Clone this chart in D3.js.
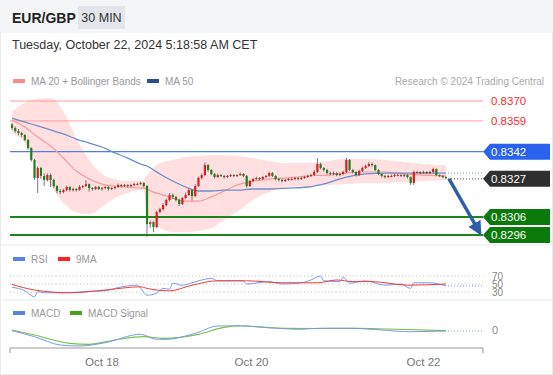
<!DOCTYPE html>
<html lang="en">
<head>
<meta charset="UTF-8">
<title>EUR/GBP 30 MIN</title>
<script src="https://cdn.jsdelivr.net/npm/d3@7"></script>
<style>
  body { margin: 0; background: #fff; }
  svg { display: block; font-family: "Liberation Sans", Arial, sans-serif; }
</style>
</head>
<body>
<svg width="553" height="375"></svg>
<script>
// candles (30 min bars), open of each bar = close of previous bar
const firstOpen = 0.83570
const closes = [
  .83551,.83534,.83523,.83512,.83485,.83440,.83374,.83275,.83330,.83286,
  .83264,.83291,.83264,.83230,.83203,.83197,.83208,.83225,.83208,.83214,
  .83208,.83225,.83230,.83241,.83219,.83214,.83225,.83214,.83219,.83225,
  .83214,.83219,.83225,.83236,.83230,.83236,.83230,.83236,.83241,.83241,
  .83247,.83230,.83020,.83031,.83004,.83087,.83103,.83125,.83153,.83181,
  .83170,.83153,.83131,.83164,.83181,.83208,.83175,.83230,.83275,.83291,
  .83346,.83319,.83297,.83280,.83291,.83286,.83280,.83286,.83291,.83286,
  .83291,.83297,.83286,.83230,.83258,.83269,.83275,.83269,.83280,.83286,
  .83302,.83286,.83269,.83264,.83258,.83264,.83269,.83269,.83275,.83269,
  .83275,.83280,.83286,.83291,.83308,.83352,.83330,.83319,.83302,.83297,
  .83302,.83291,.83297,.83308,.83374,.83319,.83308,.83291,.83313,.83330,
  .83341,.83352,.83346,.83319,.83297,.83286,.83280,.83286,.83286,.83291,
  .83291,.83286,.83291,.83280,.83247,.83308,.83308,.83302,.83308,.83302,
  .83308,.83324,.83291,.83286,.83280,.83275
]
const highs = [
  .83580,.83560,.83545,.83530,.83518,.83490,.83445,.83380,.83340,.83336,
  .83300,.83300,.83300,.83270,.83236,.83215,.83215,.83232,.83230,.83222,
  .83220,.83235,.83236,.83262,.83245,.83225,.83230,.83232,.83225,.83232,
  .83230,.83225,.83230,.83245,.83242,.83242,.83240,.83242,.83248,.83250,
  .83255,.83252,.83236,.83040,.83036,.83095,.83110,.83135,.83160,.83192,
  .83190,.83178,.83160,.83170,.83195,.83215,.83212,.83240,.83282,.83300,
  .83360,.83352,.83325,.83302,.83298,.83296,.83292,.83292,.83298,.83296,
  .83296,.83305,.83302,.83292,.83265,.83275,.83282,.83280,.83286,.83292,
  .83310,.83308,.83290,.83275,.83270,.83270,.83275,.83278,.83282,.83280,
  .83282,.83286,.83292,.83298,.83318,.83385,.83360,.83335,.83325,.83310,
  .83310,.83308,.83305,.83315,.83385,.83380,.83325,.83312,.83320,.83338,
  .83350,.83362,.83360,.83350,.83322,.83300,.83292,.83292,.83294,.83298,
  .83298,.83296,.83298,.83296,.83284,.83315,.83315,.83312,.83315,.83312,
  .83315,.83332,.83328,.83295,.83290,.83285
]
const lows = [
  .83540,.83525,.83510,.83500,.83478,.83430,.83365,.83265,.83192,.83270,
  .83230,.83255,.83225,.83220,.83190,.83185,.83190,.83200,.83200,.83200,
  .83200,.83205,.83218,.83225,.83200,.83205,.83208,.83208,.83205,.83212,
  .83205,.83208,.83212,.83220,.83222,.83225,.83222,.83225,.83230,.83235,
  .83236,.83222,.82949,.83000,.82975,.82998,.83080,.83095,.83118,.83145,
  .83160,.83145,.83120,.83125,.83160,.83175,.83150,.83170,.83225,.83268,
  .83285,.83310,.83290,.83272,.83275,.83280,.83272,.83275,.83280,.83280,
  .83280,.83286,.83280,.83222,.83225,.83252,.83264,.83262,.83264,.83275,
  .83280,.83280,.83262,.83255,.83250,.83252,.83258,.83262,.83262,.83262,
  .83264,.83270,.83275,.83280,.83286,.83302,.83322,.83310,.83295,.83290,
  .83290,.83285,.83285,.83290,.83302,.83312,.83300,.83282,.83285,.83308,
  .83325,.83335,.83338,.83312,.83290,.83278,.83272,.83275,.83278,.83280,
  .83284,.83280,.83280,.83272,.83236,.83236,.83300,.83296,.83298,.83296,
  .83298,.83302,.83285,.83280,.83274,.83268
]

// MA 20, MA 50 and Bollinger bands, read at these bar indexes
const indIdx = [0,4,8,12,16,20,24,28,32,36,40,41,42,44,46,50,54,58,62,66,70,75,80,86,92,98,104,110,116,122,128,135]
const ma50 = [.83606,.83584,.83562,.83540,.83518,.83490,.83468,.83446,.83413,.83385,.83352,.83346,.83341,.83319,.83297,.83258,
  .83225,.83203,.83203,.83208,.83208,.83214,.83214,.83219,.83225,.83247,.83280,.83297,.83302,.83302,.83302,.83302]
const ma20 = [.83595,.83556,.83501,.83451,.83385,.83313,.83269,.83241,.83230,.83225,.83219,.83219,.83214,.83197,.83186,.83164,
  .83147,.83147,.83170,.83203,.83236,.83258,.83269,.83275,.83286,.83291,.83302,.83308,.83308,.83297,.83291,.83286]
const bbUpper = [.83640,.83690,.83712,.83716,.83640,.83496,.83374,.83297,.83269,.83258,.83258,.83264,.83291,.83330,.83357,.83374,
  .83391,.83396,.83402,.83402,.83396,.83385,.83369,.83357,.83357,.83369,.83380,.83380,.83374,.83363,.83352,.83346]
const bbLower = [.83523,.83468,.83346,.83236,.83136,.83087,.83075,.83115,.83164,.83192,.83208,.83208,.83070,.83020,.82998,.82976,
  .82976,.82982,.82998,.83043,.83087,.83153,.83197,.83225,.83230,.83236,.83241,.83247,.83247,.83252,.83258,.83264]

// key levels on the right
const resistLevels = [0.8370, 0.8359]
const pivotLevel = 0.8342
const supportLevels = [0.8306, 0.8296]
const lastPrice = 0.8327

// RSI and its 9MA
const rsiIdx = [0,4,7,8,10,16,23,29,33,39,42,45,47,49,50,53,56,59,62,64,72,73,80,84,90,93,96,97,102,103,105,110,116,121,124,125,130,135]
const rsi = [42,33,18,31,28,28,31,33,41,47,22,27,39,37,52,47,53,60,64,58,58,50,56,50,53,60,70,58,56,67,52,58,47,50,39,53,53,45]
const rsiMaIdx = [0,7,18,29,40,42,49,56,64,73,84,95,101,106,112,123,135]
const rsiMa = [49,35,28,35,43,39,33,47,58,58,53,53,60,56,56,47,50]
const rsiTicks = [70, 50, 30]

// MACD and signal
const macdIdx = [0,7,15,21,29,40,45,48,57,64,71,80,90,95,106,115,124,135]
const macd = [-0.000014,-0.000134,-0.00030,-0.00032,-0.000254,-0.000086,-0.000186,-0.000186,-0.000066,0.00008,0.000086,0.000046,0.000014,0.000034,0.000034,0,-0.000034,-0.00002]
const sigIdx = [0,7,18,24,32,41,47,58,66,71,84,95,106,117,135]
const signal = [0,-0.0001,-0.000266,-0.000286,-0.0002,-0.000134,-0.000166,-0.000086,0.000054,0.00008,0.000034,0.00003,0.000034,0.00002,-0.000014]

// x axis labels at bar indexes
const dayTicks = [28, 74.5, 128]
const dayLabels = ['Oct 18', 'Oct 20', 'Oct 22']

const svg = d3.select('svg')
const W = 553, H = 375
const left = 10, right = 483

const x = d3.scaleLinear().domain([0, closes.length - 1]).range([12, 446])
const y = d3.scaleLinear().domain([0.8296, 0.8370]).range([235, 101])
const yRsi = d3.scaleLinear().domain([30, 70]).range([292, 276])
const yMacd = d3.scaleLinear().domain([-0.0004, 0.0002]).range([350, 320])

const candles = closes.map((c, i) => ({
  i: i, o: i === 0 ? firstOpen : closes[i - 1], c: c, h: highs[i], l: lows[i]
}))
const pts = (idx, vals) => idx.map((k, j) => [k, vals[j]])

// frame + header
svg.append('rect').attr('x', 0.5).attr('y', 0.5).attr('width', W - 1).attr('height', H - 1)
  .attr('fill', '#fff').attr('stroke', '#e8ebee')
svg.append('rect').attr('x', 0).attr('y', 0).attr('width', W).attr('height', 33).attr('fill', '#f3f5f7')
svg.append('text').attr('x', 12).attr('y', 23).text('EUR/GBP')
  .attr('font-size', 14).attr('font-weight', 'bold').attr('fill', '#222')
svg.append('rect').attr('x', 78).attr('y', 6).attr('width', 47).attr('height', 23).attr('fill', '#e2e5e9')
svg.append('text').attr('x', 101.5).attr('y', 22).attr('text-anchor', 'middle').text('30 MIN')
  .attr('font-size', 12.5).attr('fill', '#333')
svg.append('text').attr('x', 12).attr('y', 49).text('Tuesday, October 22, 2024 5:18:58 AM CET')
  .attr('font-size', 12.5).attr('fill', '#333')

// separators
svg.selectAll('.sep').data([245, 300]).enter().append('line')
  .attr('x1', 0).attr('x2', W).attr('y1', d => d).attr('y2', d => d)
  .attr('stroke', '#eef0f2').attr('stroke-width', 1.5)

// legends
function legend(items, ly) {
  items.forEach(it => {
    svg.append('rect').attr('x', it.x).attr('y', ly - 2).attr('width', 12).attr('height', 4).attr('fill', it.color)
    svg.append('text').attr('x', it.x + 18).attr('y', ly + 4).text(it.label)
      .attr('font-size', 10).attr('fill', '#999')
  })
}
legend([{ x: 13, color: '#ff8a8a', label: 'MA 20 + Bollinger Bands' }, { x: 147, color: '#2c4f91', label: 'MA 50' }], 81)
legend([{ x: 13, color: '#5b82e0', label: 'RSI' }, { x: 58, color: '#f22', label: '9MA' }], 259)
legend([{ x: 13, color: '#5b82e0', label: 'MACD' }, { x: 70, color: '#4aa01c', label: 'MACD Signal' }], 313)
svg.append('text').attr('x', 544).attr('y', 85).attr('text-anchor', 'end')
  .text('Research \u00a9 2024 Trading Central').attr('font-size', 10).attr('fill', '#aaa')

// bollinger band
const band = pts(indIdx, bbUpper).map((p, j) => ({ i: p[0], u: p[1], d: bbLower[j] }))
svg.append('path').datum(band)
  .attr('d', d3.area().x(d => x(d.i)).y0(d => y(d.d)).y1(d => y(d.u)).curve(d3.curveMonotoneX))
  .attr('fill', '#ffd9d9').attr('opacity', 0.85)

// level lines
svg.selectAll('.res').data(resistLevels).enter().append('line')
  .attr('x1', left).attr('x2', right).attr('y1', d => y(d)).attr('y2', d => y(d))
  .attr('stroke', '#ff9c9c').attr('stroke-width', 1)
svg.selectAll('.resl').data(resistLevels).enter().append('text')
  .attr('x', 491).attr('y', d => y(d) + 4).text(d => d.toFixed(4))
  .attr('font-size', 11.5).attr('fill', '#ff2a2a')
svg.append('line').attr('x1', left).attr('x2', right).attr('y1', y(pivotLevel)).attr('y2', y(pivotLevel))
  .attr('stroke', '#4f7fe6').attr('stroke-width', 1.2)
svg.selectAll('.sup').data(supportLevels).enter().append('line')
  .attr('x1', left).attr('x2', right).attr('y1', d => y(d)).attr('y2', d => y(d))
  .attr('stroke', '#1b861b').attr('stroke-width', 2)

// moving averages
const lineGen = d3.line().x(d => x(d[0])).y(d => y(d[1])).curve(d3.curveMonotoneX)
svg.append('path').datum(pts(indIdx, ma20)).attr('d', lineGen)
  .attr('fill', 'none').attr('stroke', '#f59a9a').attr('stroke-width', 1.2)
svg.append('path').datum(pts(indIdx, ma50)).attr('d', lineGen)
  .attr('fill', 'none').attr('stroke', '#6d8ecb').attr('stroke-width', 1.3)

// dotted extensions to the labels
const lastX = x(closes.length - 1)
svg.append('line').attr('x1', lastX + 2).attr('x2', right).attr('y1', y(ma50[ma50.length - 1])).attr('y2', y(ma50[ma50.length - 1]))
  .attr('stroke', '#7d96c8').attr('stroke-dasharray', '1,2')
svg.append('line').attr('x1', lastX + 2).attr('x2', right).attr('y1', y(lastPrice)).attr('y2', y(lastPrice))
  .attr('stroke', '#555').attr('stroke-dasharray', '1,2')

// candles
const cg = svg.append('g')
cg.selectAll('line').data(candles).enter().append('line')
  .attr('x1', d => x(d.i)).attr('x2', d => x(d.i))
  .attr('y1', d => y(d.h)).attr('y2', d => y(d.l))
  .attr('stroke', '#555').attr('stroke-width', 0.8)
cg.selectAll('rect').data(candles).enter().append('rect')
  .attr('x', d => x(d.i) - 1.1).attr('width', 2.2)
  .attr('y', d => y(Math.max(d.o, d.c)))
  .attr('height', d => Math.max(1, Math.abs(y(d.o) - y(d.c))))
  .attr('fill', d => d.c >= d.o ? '#d91f1f' : '#1f7f1f')

// forecast arrow
svg.append('defs').append('marker').attr('id', 'ah').attr('viewBox', '0 0 10 10')
  .attr('refX', 8).attr('refY', 5).attr('markerWidth', 4).attr('markerHeight', 4)
  .attr('orient', 'auto')
  .append('path').attr('d', 'M0,0 L10,5 L0,10 z').attr('fill', '#2d5ea8')
svg.append('line').attr('x1', lastX + 3).attr('y1', y(lastPrice))
  .attr('x2', right - 3).attr('y2', y(supportLevels[1]) - 2)
  .attr('stroke', '#2d5ea8').attr('stroke-width', 3.5).attr('marker-end', 'url(#ah)')

// price tags
function tag(v, color) {
  const ty = y(v)
  svg.append('path')
    .attr('d', `M${right},${ty} L${right + 7},${ty - 8} L550,${ty - 8} L550,${ty + 8} L${right + 7},${ty + 8} Z`)
    .attr('fill', color)
  svg.append('text').attr('x', 491).attr('y', ty + 4).text(v.toFixed(4))
    .attr('font-size', 11.5).attr('fill', '#fff')
}
tag(pivotLevel, '#2a62f0')
tag(lastPrice, '#2f2f2f')
supportLevels.forEach(v => tag(v, '#0b7a0b'))

// RSI panel
svg.selectAll('.rg').data(rsiTicks).enter().append('line')
  .attr('x1', left).attr('x2', right).attr('y1', d => yRsi(d)).attr('y2', d => yRsi(d))
  .attr('stroke', '#bbb').attr('stroke-dasharray', '1,2.5')
svg.selectAll('.rt').data(rsiTicks).enter().append('text')
  .attr('x', 492).attr('y', d => yRsi(d) + 3.5).text(d => d)
  .attr('font-size', 10).attr('fill', '#888')
const rLine = d3.line().x(d => x(d[0])).y(d => yRsi(d[1])).curve(d3.curveMonotoneX)
svg.append('path').datum(pts(rsiIdx, rsi)).attr('d', rLine)
  .attr('fill', 'none').attr('stroke', '#7b9be8').attr('stroke-width', 1)
svg.append('path').datum(pts(rsiMaIdx, rsiMa)).attr('d', rLine)
  .attr('fill', 'none').attr('stroke', '#f03c3c').attr('stroke-width', 1)
svg.append('line').attr('x1', lastX + 2).attr('x2', right).attr('y1', yRsi(rsi[rsi.length - 1])).attr('y2', yRsi(rsi[rsi.length - 1]))
  .attr('stroke', '#7b9be8').attr('stroke-dasharray', '1,2')

// MACD panel
const mLine = d3.line().x(d => x(d[0])).y(d => yMacd(d[1])).curve(d3.curveMonotoneX)
svg.append('path').datum(pts(sigIdx, signal)).attr('d', mLine)
  .attr('fill', 'none').attr('stroke', '#7cc04a').attr('stroke-width', 1.2)
svg.append('path').datum(pts(macdIdx, macd)).attr('d', mLine)
  .attr('fill', 'none').attr('stroke', '#7b9be8').attr('stroke-width', 1)
svg.append('line').attr('x1', lastX + 2).attr('x2', right).attr('y1', yMacd(macd[macd.length - 1])).attr('y2', yMacd(macd[macd.length - 1]))
  .attr('stroke', '#7b9be8').attr('stroke-dasharray', '1,2')
svg.append('text').attr('x', 492).attr('y', yMacd(0) + 4).text('0')
  .attr('font-size', 11).attr('fill', '#888')

// x axis
svg.append('path').attr('d', `M${left},353 V348 H${right} V353`)
  .attr('fill', 'none').attr('stroke', '#999')
svg.selectAll('.xt').data(dayTicks).enter().append('text')
  .attr('x', d => x(d)).attr('y', 366).attr('text-anchor', 'middle')
  .text((d, i) => dayLabels[i]).attr('font-size', 11.5).attr('fill', '#777')
</script>
</body>
</html>
